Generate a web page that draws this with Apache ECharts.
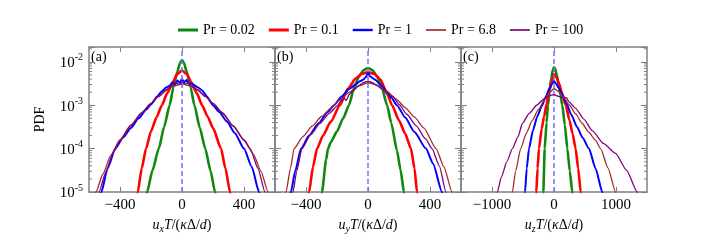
<!DOCTYPE html>
<html><head><meta charset="utf-8">
<script src="https://cdn.jsdelivr.net/npm/echarts@6/dist/echarts.min.js"></script>
<style>html,body{margin:0;padding:0;background:#fff}#c{width:720px;height:240px}</style>
</head><body><div id="c"></div>
<script>
// ---------- data ----------
const seriesNames = ['Pr = 0.02', 'Pr = 0.1', 'Pr = 1', 'Pr = 6.8', 'Pr = 100'];
const panelLabels = ['(a)', '(b)', '(c)'];
const xLimits = [[-600, 600], [-600, 600], [-1500, 1500]];
const xTickValues = [[-400, 0, 400], [-400, 0, 400], [-1000, 0, 1000]];
const yLimits = [1e-5, 0.022];
const yMinorTicks = [2e-5,3e-5,4e-5,5e-5,6e-5,7e-5,8e-5,9e-5,2e-4,3e-4,4e-4,5e-4,6e-4,7e-4,8e-4,9e-4,2e-3,3e-3,4e-3,5e-3,6e-3,7e-3,8e-3,9e-3,2e-2];
const xNames = ['x', 'y', 'z'];

// panel (a): u_x T
const aX0 = [-250,-225,-190,-150,-115,-80,-55,-30,-12,0,12,30,55,80,115,150,185,213,240];
const aY0 = [4e-6,1e-5,3.2e-5,1e-4,3.2e-4,1e-3,2.6e-3,6e-3,9.5e-3,1.1e-2,9.5e-3,6e-3,2.6e-3,1e-3,3e-4,1e-4,3e-5,1e-5,4e-6];
const aX1 = [-310,-285,-260,-232,-200,-165,-130,-95,-60,-30,0,30,60,95,130,165,200,252,280,310,335];
const aY1 = [3e-6,1e-5,3.5e-5,1e-4,2.5e-4,5.2e-4,1e-3,1.9e-3,3.4e-3,5.3e-3,6.3e-3,5.3e-3,3.4e-3,1.9e-3,1e-3,5.5e-4,3e-4,1e-4,3.5e-5,1e-5,3.5e-6];
const aX2 = [-540,-520,-480,-430,-380,-330,-280,-230,-200,-160,-130,-100,-80,-60,-45,-30,-15,0,15,30,45,60,80,100,130,160,200,240,290,340,400,450,497,520];
const aY2 = [5e-6,1e-5,3.5e-5,1e-4,1.8e-4,3e-4,5e-4,8e-4,1.05e-3,1.6e-3,2.1e-3,2.6e-3,2.8e-3,3.4e-3,3.0e-3,3.7e-3,3.3e-3,4e-3,3.4e-3,3.8e-3,3.1e-3,3.2e-3,2.9e-3,2.6e-3,2.2e-3,1.6e-3,1.0e-3,7e-4,4.2e-4,2.3e-4,1e-4,3.8e-5,1e-5,5e-6];
const aX3 = [-585,-555,-510,-460,-400,-330,-260,-200,-150,-100,-50,0,50,100,150,200,260,330,400,460,510,555,580];
const aY3 = [5e-6,1e-5,2.6e-5,7e-5,1.6e-4,3.5e-4,6.8e-4,1.1e-3,1.6e-3,2.2e-3,2.8e-3,3.1e-3,2.8e-3,2.2e-3,1.6e-3,1.1e-3,6.8e-4,3.4e-4,1.6e-4,7.5e-5,3e-5,1e-5,5e-6];
const aX4 = [-560,-535,-490,-445,-400,-330,-260,-200,-150,-100,-60,-40,-20,0,20,40,60,100,150,200,260,330,400,440,490,535,560];
const aY4 = [5e-6,1e-5,3e-5,8e-5,1.5e-4,3.4e-4,6.6e-4,1.1e-3,1.6e-3,2.3e-3,2.9e-3,3.3e-3,3e-3,3.4e-3,3.1e-3,3.3e-3,2.8e-3,2.3e-3,1.6e-3,1.1e-3,6.6e-4,3.3e-4,1.55e-4,1e-4,3.5e-5,1e-5,5e-6];

// panel (b): u_y T
const bX0 = [-320,-297,-270,-258,-240,-200,-160,-123,-90,-60,-30,0,30,60,90,123,150,187,210,232,250];
const bY0 = [3e-6,1e-5,5.6e-5,1e-4,1.4e-4,2.5e-4,5e-4,1e-3,2.5e-3,4.5e-3,6.4e-3,7.2e-3,6.4e-3,4.5e-3,2.5e-3,1e-3,3.9e-4,9e-5,3.2e-5,1e-5,4e-6];
const bX1 = [-400,-380,-355,-329,-290,-240,-181,-130,-80,-40,0,40,80,120,155,200,240,277,300,316,335];
const bY1 = [4e-6,1e-5,3.8e-5,1e-4,2e-4,4.2e-4,1e-3,2.4e-3,4.1e-3,5.3e-3,5.8e-3,5.3e-3,3.9e-3,2e-3,1e-3,4.5e-4,2.2e-4,1e-4,3.5e-5,1e-5,3e-6];
const bX2 = [-520,-497,-470,-432,-380,-320,-260,-219,-170,-120,-80,-50,-30,-15,0,15,30,50,80,120,150,187,240,300,374,420,477,500];
const bY2 = [5e-6,1e-5,3e-5,1e-4,2e-4,3.8e-4,7e-4,1e-3,1.6e-3,2.4e-3,3e-3,3.6e-3,3.9e-3,4.4e-3,5.5e-3,4.6e-3,4.2e-3,3.8e-3,3e-3,2.1e-3,1.5e-3,1e-3,5.2e-4,2.4e-4,1e-4,4.5e-5,1e-5,5e-6];
const bX3 = [-560,-529,-500,-477,-420,-360,-300,-240,-180,-120,-60,0,60,120,180,240,300,360,439,490,542,570];
const bY3 = [4e-6,1e-5,3.5e-5,1e-4,1.9e-4,3.3e-4,5.5e-4,8.5e-4,1.35e-3,2e-3,2.8e-3,3.3e-3,2.9e-3,2.1e-3,1.4e-3,8.8e-4,5.3e-4,3e-4,1e-4,3.8e-5,1e-5,5e-6];
const bX4 = [-505,-484,-460,-426,-370,-310,-250,-200,-160,-140,-120,-100,-60,-30,0,30,60,100,130,160,200,250,310,370,413,460,503,525];
const bY4 = [5e-6,1e-5,3e-5,1e-4,2.1e-4,3.8e-4,6.5e-4,9.5e-4,1.5e-3,1.3e-3,1.8e-3,2.1e-3,2.8e-3,3.3e-3,3.6e-3,3.3e-3,2.8e-3,2.2e-3,1.7e-3,1.6e-3,1.05e-3,6.2e-4,3.4e-4,1.7e-4,1e-4,4e-5,1e-5,5e-6];

// panel (c): u_z T
const cX0 = [-195,-172,-150,-120,-97,-70,-45,-20,0,20,45,75,105,134,175,215,255,295,320];
const cY0 = [1e-6,1e-5,1e-4,4e-4,1e-3,2.2e-3,4.2e-3,6.5e-3,7.5e-3,6.8e-3,5e-3,3e-3,1.7e-3,1e-3,3.5e-4,1e-4,3e-5,1e-5,5e-6];
const cX1 = [-305,-285,-265,-242,-200,-160,-120,-80,-40,0,40,80,130,190,250,300,349,390,430,455];
const cY1 = [3e-6,1e-5,3.5e-5,1e-4,2.8e-4,5.5e-4,1.05e-3,2e-3,3.6e-3,5.2e-3,4.4e-3,3.2e-3,1.9e-3,1e-3,4.5e-4,2.2e-4,1e-4,3.5e-5,1e-5,4e-6];
const cX2 = [-490,-467,-440,-403,-340,-270,-200,-130,-70,-30,0,30,70,130,200,280,370,460,564,670,779,820];
const cY2 = [4e-6,1e-5,3.5e-5,1e-4,2.6e-4,5.5e-4,9.5e-4,1.6e-3,2.5e-3,3.1e-3,3.6e-3,3.2e-3,2.6e-3,1.8e-3,1.1e-3,6e-4,3.2e-4,1.8e-4,1e-4,3.5e-5,1e-5,5e-6];
const cX3 = [-720,-671,-620,-537,-450,-350,-250,-150,-70,0,70,150,250,350,450,560,671,752,870,993,1040];
const cY3 = [3e-6,1e-5,3e-5,1e-4,2.2e-4,4.5e-4,8e-4,1.35e-3,2e-3,2.4e-3,2.1e-3,1.55e-3,1e-3,6.3e-4,3.9e-4,2.4e-4,1.55e-4,1e-4,3.6e-5,1e-5,5e-6];
const cX4 = [-960,-913,-850,-760,-671,-580,-510,-400,-280,-160,-80,0,80,160,200,240,350,480,617,800,993,1170,1342,1400];
const cY4 = [4e-6,1e-5,2.2e-5,5e-5,1e-4,1.9e-4,3.8e-4,6.5e-4,1e-3,1.4e-3,1.65e-3,1.75e-3,1.6e-3,1.45e-3,1.5e-3,1.2e-3,8.5e-4,4.8e-4,2.6e-4,1.3e-4,7.8e-5,3.2e-5,1e-5,6e-6];

// ---------- styling ----------
const colors = ['#0f880f', '#ff0000', '#0000ff', '#a52a2a', '#800080'];
const widths = [2.6, 2.6, 2, 1.3, 1.3];
const serif = '"Liberation Serif", "DejaVu Serif", serif';
const axisGray = '#808080';
const gridLefts = [89, 275, 461];
const gridW = 186, gridTop = 47, gridH = 145;

const panelX = [[aX0,aX1,aX2,aX3,aX4],[bX0,bX1,bX2,bX3,bX4],[cX0,cX1,cX2,cX3,cX4]];
const panelY = [[aY0,aY1,aY2,aY3,aY4],[bY0,bY1,bY2,bY3,bY4],[cY0,cY1,cY2,cY3,cY4]];

const grids = [], xAxes = [], yAxes = [], series = [], graphics = [];
const fmtX = v => (v < 0 ? '\u2212' + Math.abs(v) : String(v));
const fmtY = v => {
  const l = Math.log10(v), e = Math.round(l);
  if (Math.abs(l - e) > 1e-6) return '';
  return '{b|10}{s|' + (e < 0 ? '-' + (-e) : e) + '}';
};

for (let p = 0; p < 3; p++) {
  grids.push({left: gridLefts[p], top: gridTop, width: gridW, height: gridH});
  const common = {
    type: 'value', gridIndex: p, min: xLimits[p][0], max: xLimits[p][1],
    splitLine: {show: false},
    axisLine: {show: true, onZero: false, lineStyle: {color: axisGray, width: 1.5}},
    axisTick: {show: true, inside: true, length: 5, customValues: xTickValues[p], lineStyle: {color: axisGray, width: 1}},
  };
  xAxes.push(Object.assign({}, common, {
    position: 'bottom',
    axisLabel: {show: true, customValues: xTickValues[p], formatter: fmtX, color: '#000', fontFamily: serif, fontSize: 15, margin: 6},
    name: '{it|u}{sub|' + xNames[p] + '}{it|T}{n|/(}{it|\u03ba}{n|\u0394/}{it|d}{n|)}',
    nameLocation: 'middle', nameGap: 20,
    nameTextStyle: {
      rich: {
        it: {fontFamily: serif, fontStyle: 'italic', fontSize: 14, color: '#000', lineHeight: 18, verticalAlign: 'bottom'},
        n: {fontFamily: serif, fontSize: 14, color: '#000', lineHeight: 18, verticalAlign: 'bottom'},
        sub: {fontFamily: serif, fontStyle: 'italic', fontSize: 10, color: '#000', lineHeight: 10, verticalAlign: 'bottom', padding: [0, 0, -2, 0]}
      }
    }
  }));
  xAxes.push(Object.assign({}, common, {position: 'top', axisLabel: {show: false}}));

  const yCommon = {
    type: 'log', logBase: 10, gridIndex: p, min: yLimits[0], max: yLimits[1],
    splitLine: {show: false},
    axisLine: {show: true, onZero: false, lineStyle: {color: axisGray, width: 1.5}},
    axisTick: {show: true, inside: true, length: 6, lineStyle: {color: axisGray, width: 1}},
  };
  yAxes.push(Object.assign({}, yCommon, {
    position: 'left',
    axisLabel: {show: p === 0, formatter: fmtY, margin: 6,
      rich: {
        b: {fontFamily: serif, fontSize: 15, color: '#000', lineHeight: 18, verticalAlign: 'bottom'},
        s: {fontFamily: serif, fontSize: 10, color: '#000', lineHeight: 10, verticalAlign: 'top'}
      }},
    name: p === 0 ? 'PDF' : '', nameLocation: 'middle', nameGap: 42, nameRotate: 90,
    nameTextStyle: {fontFamily: serif, fontSize: 14, color: '#000'}
  }));
  yAxes.push(Object.assign({}, yCommon, {position: 'right', axisLabel: {show: false}}));

  for (let s = 0; s < 5; s++) {
    const xs = panelX[p][s], ys = panelY[p][s];
    const ser = {
      type: 'line', name: seriesNames[s], xAxisIndex: 2 * p, yAxisIndex: 2 * p,
      data: xs.map((x, i) => [x, ys[i]]),
      showSymbol: false, symbol: 'none', smooth: 0.2, smoothMonotone: 'x',
      lineStyle: {color: colors[s], width: widths[s]}, itemStyle: {color: colors[s]},
      clip: true, z: 2 + s
    };
    if (s === 4) {
      ser.markLine = {
        silent: true, symbol: 'none', animation: false, label: {show: false},
        lineStyle: {color: '#7070ff', type: [5, 3], width: 1.5},
        data: [{xAxis: 0}]
      };
    }
    series.push(ser);
  }
  // minor log ticks on left and right frame
  const xl = xLimits[p];
  series.push({
    type: 'custom', xAxisIndex: 2 * p, yAxisIndex: 2 * p, silent: true, z: 10,
    data: yMinorTicks.map(v => [0, v]),
    encode: {x: 0, y: 1},
    renderItem: (params, api) => {
      const v = api.value(1);
      const l = api.coord([xl[0], v]), r = api.coord([xl[1], v]);
      return {type: 'group', children: [
        {type: 'line', shape: {x1: l[0], y1: l[1], x2: l[0] + 3, y2: l[1]}, style: {stroke: axisGray, lineWidth: 1}},
        {type: 'line', shape: {x1: r[0], y1: r[1], x2: r[0] - 3, y2: r[1]}, style: {stroke: axisGray, lineWidth: 1}}
      ]};
    }
  });
  graphics.push({type: 'text', left: gridLefts[p] + 2, top: gridTop + 3,
    style: {text: panelLabels[p], font: '14px ' + serif, fill: '#000'}});
}

// legend icons: horizontal bar of the series line thickness inside a 20x12 box
const legendIcon = w => {
  const y0 = (6 - w / 2).toFixed(2), y1 = (6 + w / 2).toFixed(2);
  return 'path://M0,0M20,12M0,' + y0 + 'L20,' + y0 + 'L20,' + y1 + 'L0,' + y1 + 'Z';
};

const chart = echarts.init(document.getElementById('c'), null, {renderer: 'canvas'});
chart.setOption({
  animation: false,
  backgroundColor: '#fff',
  legend: {
    data: seriesNames.map((n, i) => ({name: n, icon: legendIcon(widths[i] + 0.4), itemStyle: {color: colors[i], borderWidth: 0}})),
    left: 173, top: 18, itemWidth: 20, itemHeight: 12, itemGap: 14,
    textStyle: {fontFamily: serif, fontSize: 14, color: '#000'}
  },
  grid: grids, xAxis: xAxes, yAxis: yAxes, series: series, graphic: graphics
});
</script></body></html>
